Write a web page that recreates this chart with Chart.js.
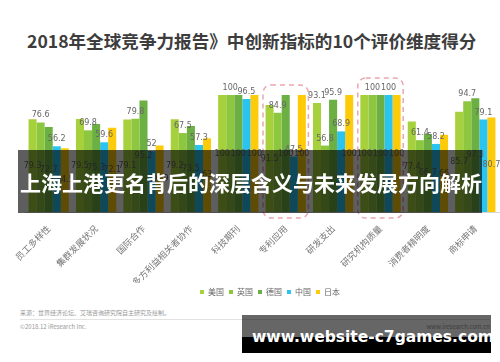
<!DOCTYPE html>
<html>
<head>
<meta charset="utf-8">
<script src="https://cdn.jsdelivr.net/npm/chart.js@4.4.0/dist/chart.umd.min.js"></script>
<style>
  body { margin: 0; width: 500px; height: 362px; background: #fff; position: relative; overflow: hidden; font-family: "Noto Sans CJK SC", sans-serif; }
  #title { position: absolute; left: 27px; top: 29px; font-size: 17.6px; font-weight: bold; color: #3d3d3d; line-height: 24px; white-space: nowrap; }
  #chartBox { position: absolute; left: 0; top: 60px; width: 500px; height: 246px; }
  #band { position: absolute; left: 18px; top: 150px; width: 464px; height: 63px; background: rgba(0, 0, 0, 0.63); }
  #band span { position: absolute; left: 2px; top: 18px; font-size: 21px; font-weight: bold; color: #fff; line-height: 28px; white-space: nowrap; }
  .small { position: absolute; font-size: 6px; color: #999; white-space: nowrap; line-height: 8px; }
  #rule { position: absolute; left: 20px; top: 319px; width: 470px; height: 1px; background: #e2e2e2; }
  #mark { position: absolute; left: 242px; top: 315px; width: 249px; height: 38px; }
  #mark .top { position: absolute; left: 0; top: 0; width: 100%; height: 22px; background: rgba(0, 0, 0, 0.6); }
  #mark .bottom { position: absolute; left: 0; top: 22px; width: 100%; height: 16px; background: #000; }
  #mark span { position: absolute; left: 10px; top: 10px; font-family: "DejaVu Sans", sans-serif; font-size: 15.5px; font-weight: bold; color: #fff; line-height: 24px; white-space: nowrap; }
</style>
</head>
<body>
<div id="title">2018年全球竞争力报告》中创新指标的10个评价维度得分</div>
<div id="chartBox"><canvas id="scoreChart"></canvas></div>
<div class="small" style="left:20px; top:309px;">来源：世界经济论坛、艾瑞咨询研究院自主研究及绘制。</div>
<div id="rule"></div>
<div class="small" style="left:20px; top:323px;">©2018.12 iResearch Inc.</div>
<div class="small" style="right:10px; top:323px;">www.iresearch.com.cn</div>
<div id="band"><span>上海上港更名背后的深层含义与未来发展方向解析</span></div>
<div id="mark"><div class="top"></div><div class="bottom"></div><span>www.website-c7games.com</span></div>

<script>
const categories = ["员工多样性", "集群发展状况", "国际合作", "多方利益相关者协作", "科技期刊",
  "专利应用", "研发支出", "研究机构质量", "消费者精明度", "商标申请"];
const usa = [79.3, 79.5, 79.1, 79.2, 100, 91.5, 93.1, 100, 77.4, 85.7];
const uk = [76.6, 69.8, 79.8, 67.5, 100, 84.9, 56.8, 100, 61.4, 94.7];
const germany = [72.7, 75.3, 95.2, 73.5, 100, 100, 95.9, 100, 66.7, 97.3];
const china = [56.2, 59.6, 52.0, 57.3, 96.5, 47.5, 68.9, 100, 58.2, 79.1];
const japan = [54.5, 72.1, 56.9, 63.0, 100, 100, 100, 100, 66.0, 80.7];
const highlighted = ["专利应用", "研究机构质量"];

// value labels: UK / China above the bar, the others above only when clear of neighbours
const labelPlugin = {
  id: "valueLabels",
  afterLayout(chart) {
    // legend sits a bit right of centre in the original
    chart.legend.left += 8;
    chart.legend.right += 8;
  },
  afterDatasetsDraw(chart) {
    const ctx = chart.ctx;
    const area = chart.chartArea;
    const sets = chart.data.datasets;
    const half = (area.right - area.left) / categories.length / 2;
    ctx.save();
    ctx.font = "8px 'DejaVu Sans'";
    ctx.fillStyle = "#666";
    ctx.textAlign = "center";
    ctx.textBaseline = "middle";
    categories.forEach((cat, i) => {
      const bars = sets.map((ds, d) => chart.getDatasetMeta(d).data[i]);
      let topMost = Math.min(...bars.map(b => b.y)) - 10;
      bars.forEach((bar, d) => {
        const v = sets[d].data[i];
        let onTop = d % 2 === 1;
        if (!onTop && v < 100) {
          const gaps = [d - 1, d + 1].filter(n => n >= 0 && n < bars.length).map(n => bars[n].y - bar.y);
          onTop = Math.min(...gaps) >= 20;
        }
        const ly = onTop ? bar.y - 7 : (bar.y + bar.base) / 2;
        if (onTop) topMost = Math.min(topMost, ly - 10);
        ctx.fillText(String(v), bar.x, ly);
      });
      if (highlighted.includes(cat)) {
        const cx = chart.scales.x.getPixelForValue(i);
        ctx.save();
        ctx.strokeStyle = "#eaa6b0";
        ctx.lineWidth = 1.5;
        ctx.setLineDash([5, 4]);
        ctx.beginPath();
        ctx.roundRect(cx - half + 1, topMost, half * 2 - 2, area.bottom + 6 - topMost, 8);
        ctx.stroke();
        ctx.restore();
      }
    });
    ctx.restore();
  }
};

document.addEventListener("DOMContentLoaded", function () {
  const ctx = document.getElementById("scoreChart").getContext("2d");
  new Chart(ctx, {
    type: "bar",
    data: {
      labels: categories,
      datasets: [
        { label: "美国", data: usa, backgroundColor: "#a6d03c" },
        { label: "英国", data: uk, backgroundColor: "#8dc63f" },
        { label: "德国", data: germany, backgroundColor: "#6cb043" },
        { label: "中国", data: china, backgroundColor: "#2bc3ef" },
        { label: "日本", data: japan, backgroundColor: "#fecb0b" }
      ]
    },
    options: {
      responsive: true,
      maintainAspectRatio: false,
      animation: false,
      layout: { padding: { top: 35, left: 25, right: 1, bottom: 0 } },
      datasets: { bar: { categoryPercentage: 0.85, barPercentage: 1.0 } },
      scales: {
        y: { display: false, min: 0, max: 100 },
        x: {
          grid: { display: false },
          border: { display: true, color: "#d6d6d6" },
          afterFit(scale) { scale.height -= 8; },
          ticks: {
            autoSkip: false,
            minRotation: 45,
            maxRotation: 45,
            color: "#777",
            font: { family: "Noto Sans CJK SC", size: 9 }
          }
        }
      },
      plugins: {
        legend: {
          position: "bottom",
          labels: {
            boxWidth: 4,
            boxHeight: 4,
            padding: 5,
            color: "#666",
            font: { family: "Noto Sans CJK SC", size: 8 }
          }
        },
        tooltip: { enabled: false }
      }
    },
    plugins: [labelPlugin]
  });
});
</script>
</body>
</html>
